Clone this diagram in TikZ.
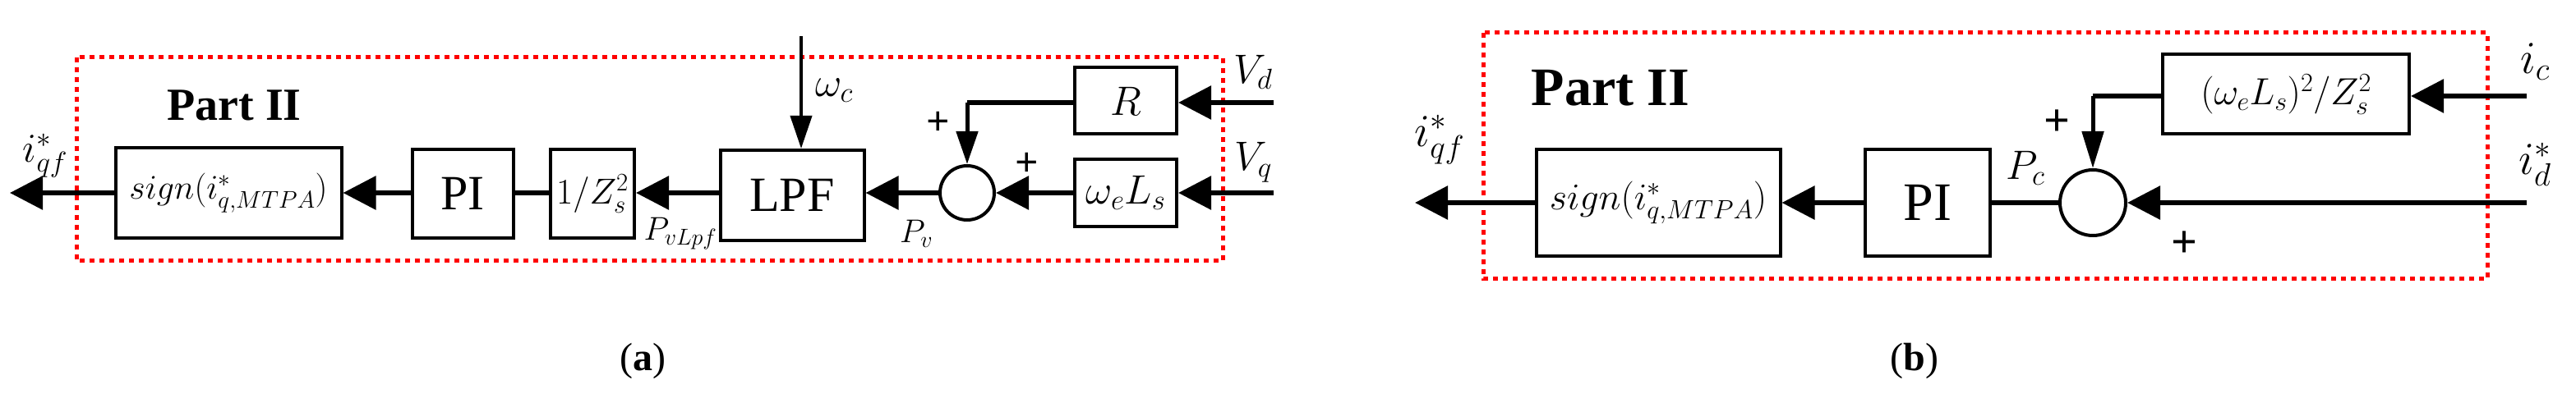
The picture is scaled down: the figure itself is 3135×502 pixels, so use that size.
\RequirePackage{fix-cm}
\documentclass[tikz,border=0pt]{standalone}
\usepackage{fontspec}
\setmainfont{Liberation Serif}
\usetikzlibrary{arrows.meta}
\begin{document}
\begin{tikzpicture}[x=1pt,y=-1pt,
  blk/.style={draw,line width=4pt,minimum height=0pt,inner sep=0pt},
  sig/.style={line width=6pt,-{Triangle[length=40pt,width=40pt]}},
  thin/.style={line width=6pt},
  sumc/.style={draw,line width=4pt,circle,inner sep=0pt},
  part/.style={red,line width=5pt,dash pattern=on 6pt off 6pt},
  lbl/.style={font=\fontsize{50}{56}\selectfont},
  sm/.style={font=\fontsize{40}{46}\selectfont}]
\useasboundingbox (0,0) rectangle (3135,502);
% ---------- (a) ----------
\draw[part] (93,70) rectangle (1488,318);
\node[font=\fontsize{56}{60}\selectfont\bfseries] (pa) at (285,128) {Part II};
\node[blk,minimum width=275pt,minimum height=110pt] (sa) at (278,235) {};
\node[font=\fontsize{42}{48}\selectfont] at (278,235) {$sign(i^*_{q,MTPA})$};
\node[blk,minimum width=123pt,minimum height=108pt] (pia) at (563,236) {};
\node[font=\fontsize{60}{66}\selectfont] at (563,236) {PI};
\node[blk,minimum width=102pt,minimum height=108pt] (za) at (721,236) {};
\node[font=\fontsize{44}{50}\selectfont] at (721,236) {$1/Z_s^2$};
\node[blk,minimum width=175pt,minimum height=110pt] (lpf) at (964,238) {};
\node[font=\fontsize{60}{66}\selectfont] at (964,238) {LPF};
\node[sumc,minimum size=66pt] (suma) at (1177,235) {};
\node[blk,minimum width=124pt,minimum height=81pt] (r) at (1370,123) {};
\node[lbl] at (1370,123) {$R$};
\node[blk,minimum width=124pt,minimum height=82pt] (wl) at (1370,235) {};
\node[lbl] at (1370,235) {$\omega_e L_s$};
\coordinate (vdin) at (1550,125);
\coordinate (vqin) at (1550,235);
\coordinate (wcin) at (975,44);
\coordinate (outa) at (12,235);
\coordinate (ka) at (1177,125);
\draw[sig] (vdin) -- (r.east|-vdin);
\draw[sig] (vqin) -- (wl.east|-vqin);
\draw[sig] (wl.west|-suma) -- (suma.east);
\draw[thin] (r.west|-ka) -- (ka);
\draw[line width=5pt,-{Triangle[length=40pt,width=26pt]}] (ka) -- (suma.north);
\draw[sig] (suma.west) -- (lpf.east|-suma);
\draw[line width=4pt,-{Triangle[length=40pt,width=26pt]}] (wcin) -- (wcin|-lpf.north);
\draw[sig] (lpf.west|-suma) -- (za.east|-suma);
\draw[thin] (za.west|-suma) -- (pia.east|-suma);
\draw[sig] (pia.west|-suma) -- (sa.east|-suma);
\draw[sig] (sa.west) -- (outa);
\node[lbl] at (1525,88) {$V_d$};
\node[lbl] at (1525,198) {$V_q$};
\node[lbl] at (1015,110) {$\omega_c$};
\node[font=\fontsize{50}{50}\selectfont\bfseries] at (1142,150) {+};
\node[font=\fontsize{50}{50}\selectfont\bfseries] at (1250,200) {+};
\node[sm] at (828,285) {$P_{vLpf}$};
\node[sm] at (1115,285) {$P_v$};
\node[lbl] at (55,190) {$i^*_{qf}$};
\node[font=\fontsize{48}{54}\selectfont] at (782,440) {(\textbf{a})};
% ---------- (b) ----------
\draw[part] (1805,40) rectangle (3027,340);
\node[font=\fontsize{66}{72}\selectfont\bfseries] (pb) at (1960,107) {Part II};
\node[blk,minimum width=297pt,minimum height=130pt] (sb) at (2018,247) {};
\node[font=\fontsize{46}{52}\selectfont] at (2018,247) {$sign(i^*_{q,MTPA})$};
\node[blk,minimum width=152pt,minimum height=130pt] (pib) at (2346,247) {};
\node[font=\fontsize{66}{72}\selectfont] at (2346,247) {PI};
\node[sumc,minimum size=80pt] (sumb) at (2547,247) {};
\node[blk,minimum width=300pt,minimum height=97pt] (wz) at (2782,115) {};
\node[font=\fontsize{46}{52}\selectfont] at (2782,115) {$(\omega_e L_s)^2/Z_s^2$};
\coordinate (icin) at (3075,117);
\coordinate (idin) at (3075,247);
\coordinate (kb) at (2547,117);
\coordinate (outb) at (1722,247);
\draw[sig] (icin) -- (wz.east|-icin);
\draw[thin] (wz.west|-kb) -- (kb);
\draw[line width=5pt,-{Triangle[length=45pt,width=26pt]}] (kb) -- (sumb.north);
\draw[sig] (idin) -- (sumb.east);
\draw[thin] (sumb.west) -- (pib.east|-sumb);
\draw[sig] (pib.west|-sumb) -- (sb.east|-sumb);
\draw[sig] (sb.west) -- (outb);
\node[font=\fontsize{56}{56}\selectfont\bfseries] at (2503,150) {+};
\node[font=\fontsize{56}{56}\selectfont\bfseries] at (2658,298) {+};
\node[lbl] at (2465,205) {$P_c$};
\node[font=\fontsize{56}{62}\selectfont] at (1752,170) {$i^*_{qf}$};
\node[font=\fontsize{56}{62}\selectfont] at (3085,75) {$i_c$};
\node[font=\fontsize{56}{62}\selectfont] at (3085,200) {$i^*_d$};
\node[font=\fontsize{48}{54}\selectfont] at (2330,440) {(\textbf{b})};
\end{tikzpicture}
\end{document}
